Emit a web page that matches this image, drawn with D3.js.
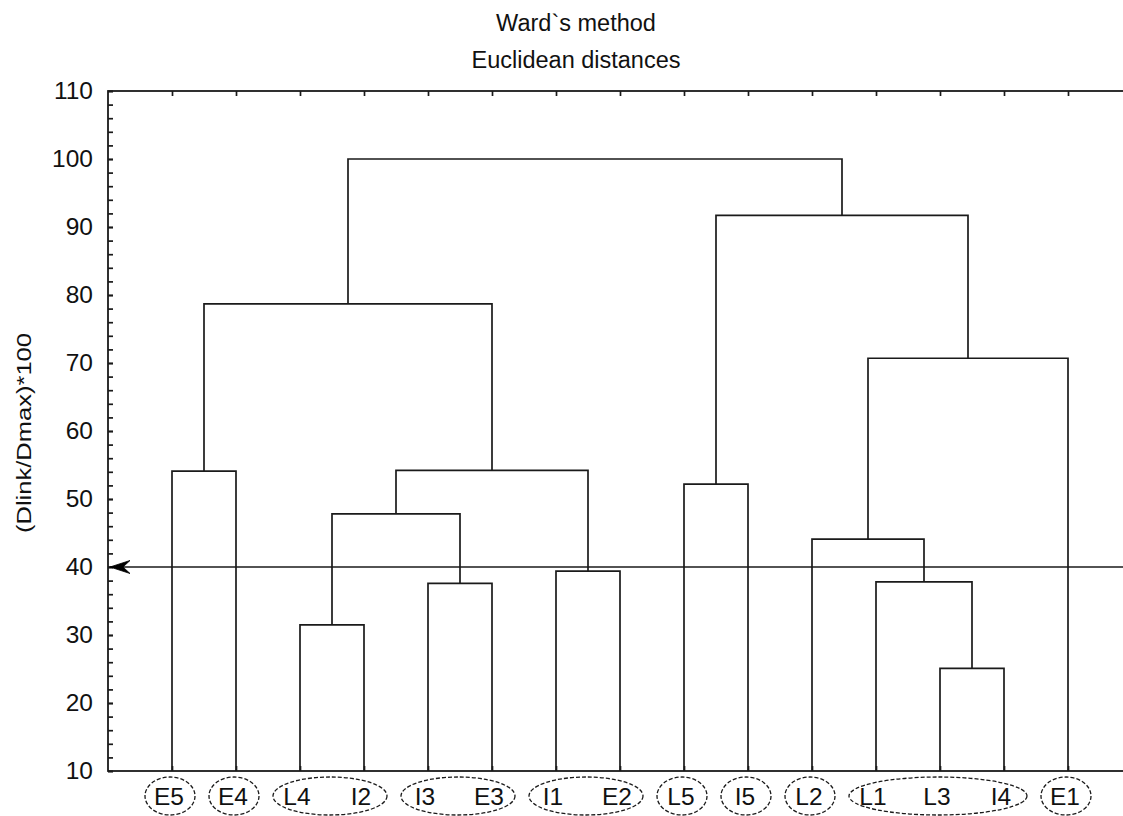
<!DOCTYPE html>
<html>
<head>
<meta charset="utf-8">
<script src="https://cdn.jsdelivr.net/npm/d3@7"></script>
<style>
  body { margin: 0; background: #fff; }
  text { font-family: "Liberation Sans", Arial, sans-serif; fill: #111; }
</style>
</head>
<body>
<div id="chart"></div>
<script>
// leaf order along the bottom axis
var leaves = ["E5","E4","L4","I2","I3","E3","I1","E2","L5","I5","L2","L1","L3","I4","E1"];

// linkage steps: [child a, child b, height]; ids >= leaves.length are earlier merges
var merges = [
  [0, 1, 54.1],
  [2, 3, 31.5],
  [4, 5, 37.6],
  [16, 17, 47.8],
  [6, 7, 39.4],
  [18, 19, 54.2],
  [15, 20, 78.7],
  [8, 9, 52.2],
  [12, 13, 25.1],
  [11, 23, 37.8],
  [10, 24, 44.1],
  [25, 14, 70.7],
  [22, 26, 91.7],
  [21, 27, 100]
];

var yMajor = [10, 20, 30, 40, 50, 60, 70, 80, 90, 100, 110];
var yMinor = d3.range(10, 111, 2);
var cutLevel = 40;
var titleLines = ["Ward`s method", "Euclidean distances"];
var yLabel = "(Dlink/Dmax)*100";

var W = 1123, H = 816;
// plot box (right edge sits just past the window, like the reference)
var pLeft = 108, pTop = 91, pBottom = 771, pRight = 1132;
var ink = "#1a1a1a";

var svg = d3.select("#chart").append("svg")
  .attr("width", W).attr("height", H);

var x = d3.scaleLinear().domain([-1, leaves.length]).range([pLeft, pRight]);
var y = d3.scaleLinear().domain([10, 110]).range([pBottom, pTop]);

// positions of each node (leaves + clusters)
var n = leaves.length;
var nodes = leaves.map(function(d, i) { return { x: i, h: 10, members: [i] }; });
merges.forEach(function(m) {
  var a = nodes[m[0]], b = nodes[m[1]];
  nodes.push({ x: (a.x + b.x) / 2, h: m[2], a: a, b: b, members: a.members.concat(b.members) });
});

// title
svg.selectAll("text.title").data(titleLines).enter().append("text")
  .attr("class", "title")
  .attr("x", 576)
  .attr("y", function(d, i) { return 31 + i * 37; })
  .attr("text-anchor", "middle")
  .style("font-size", "23.5px")
  .text(function(d) { return d; });

// y label
svg.append("text")
  .attr("transform", "translate(31,433) rotate(-90)")
  .attr("text-anchor", "middle")
  .attr("textLength", 200)
  .attr("lengthAdjust", "spacingAndGlyphs")
  .style("font-size", "21px")
  .text(yLabel);

// frame
svg.append("rect")
  .attr("x", pLeft).attr("y", pTop)
  .attr("width", pRight - pLeft).attr("height", pBottom - pTop)
  .attr("fill", "none").attr("stroke", ink).attr("stroke-width", 1.8);

// axes
var gy = svg.append("g").attr("transform", "translate(" + pLeft + ",0)");
gy.call(d3.axisLeft(y).tickValues(yMinor).tickSize(-5).tickFormat(""));
var gy2 = svg.append("g").attr("transform", "translate(" + pLeft + ",0)");
gy2.call(d3.axisLeft(y).tickValues(yMajor).tickSize(-5).tickPadding(15));
[gy, gy2].forEach(function(g) {
  g.select(".domain").remove();
  g.selectAll(".tick line").attr("stroke", ink).attr("stroke-width", 1.7);
});
gy2.selectAll(".tick text").style("font-size", "24.5px").attr("fill", "#111")
  .style("font-family", "'Liberation Sans', Arial, sans-serif");

var leafIdx = d3.range(n);
var gxt = svg.append("g").attr("transform", "translate(0," + pTop + ")");
gxt.call(d3.axisBottom(x).tickValues(leafIdx).tickSize(5).tickFormat(""));
var gxb = svg.append("g").attr("transform", "translate(0," + pBottom + ")");
gxb.call(d3.axisTop(x).tickValues(leafIdx).tickSize(5).tickFormat(""));
[gxt, gxb].forEach(function(g) {
  g.select(".domain").remove();
  g.selectAll(".tick line").attr("stroke", ink).attr("stroke-width", 1.7);
});

// dendrogram links
var clusters = nodes.slice(n);
svg.append("g").selectAll("path").data(clusters).enter().append("path")
  .attr("fill", "none").attr("stroke", ink).attr("stroke-width", 1.7)
  .attr("d", function(d) {
    return "M" + x(d.a.x) + "," + y(d.a.h) +
      "V" + y(d.h) + "H" + x(d.b.x) + "V" + y(d.b.h);
  });

// cut line with arrow
svg.append("line")
  .attr("x1", pLeft).attr("x2", pRight)
  .attr("y1", y(cutLevel)).attr("y2", y(cutLevel))
  .attr("stroke", ink).attr("stroke-width", 1.7);
var ay = y(cutLevel);
svg.append("path")
  .attr("d", "M" + (pLeft + 2) + "," + ay + "L" + (pLeft + 22) + "," + (ay - 6.5) +
    "L" + (pLeft + 15) + "," + ay + "L" + (pLeft + 22) + "," + (ay + 6.5) + "Z")
  .attr("fill", "#000").attr("stroke", "#000").attr("stroke-width", 0.8);

// groups below the cut: maximal clusters with height < cutLevel
var grouped = {};
var groups = [];
for (var i = nodes.length - 1; i >= 0; i--) {
  var nd = nodes[i];
  if (nd.h < cutLevel) {
    var covered = nd.members.some(function(m) { return grouped[m]; });
    if (!covered) {
      nd.members.forEach(function(m) { grouped[m] = true; });
      groups.push(nd.members.slice().sort(d3.ascending));
    }
  }
}

var ey = 796;
svg.append("g").selectAll("ellipse").data(groups).enter().append("ellipse")
  .attr("cx", function(g) { return (x(g[0]) + x(g[g.length - 1])) / 2 - 2; })
  .attr("cy", ey)
  .attr("rx", function(g) { return (x(g[g.length - 1]) - x(g[0])) / 2 + 25; })
  .attr("ry", 19)
  .attr("fill", "none").attr("stroke", ink).attr("stroke-width", 1.3)
  .attr("stroke-dasharray", "4,2");

svg.append("g").selectAll("text").data(leaves).enter().append("text")
  .attr("x", function(d, i) { return x(i) - 3; })
  .attr("y", ey + 9)
  .attr("text-anchor", "middle")
  .style("font-size", "24.5px")
  .text(function(d) { return d; });
</script>
</body>
</html>
